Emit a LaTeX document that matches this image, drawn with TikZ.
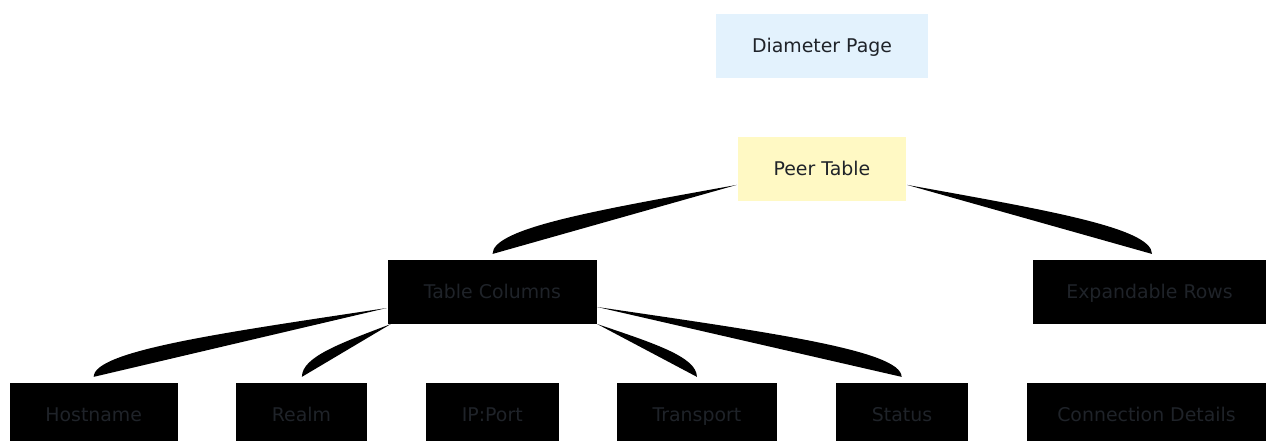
\documentclass[tikz,border=0pt]{standalone}
\usepackage{fontspec}
\setmainfont{DejaVu Sans}
\usetikzlibrary{calc}
\definecolor{txt}{HTML}{1F2329}
\definecolor{bluefill}{HTML}{E3F2FD}
\definecolor{yellowfill}{HTML}{FFF9C4}
\tikzset{
  box/.style={rectangle, inner sep=0pt, minimum height=63.7pt, text=txt,
    text height=13.8pt, text depth=0pt,
    font=\fontsize{18.9}{22}\selectfont},
  bluebox/.style={box, fill=bluefill},
  yellowbox/.style={box, fill=yellowfill},
  darkbox/.style={box, fill=black},
}
\newcommand{\wedgelink}[2]{%
  \fill[black] let \p1=(#1), \p2=(#2) in
    (\p1) .. controls ({\x1+0.56*(\x2-\x1)},{\y1+0.36*(\y2-\y1)})
             and ({\x2},{\y2+0.38*(\y1-\y2)}) .. (\p2) -- cycle;}
\begin{document}
\begin{tikzpicture}[x=1pt,y=-1pt]
\useasboundingbox (0,0) rectangle (1266,441);
\clip (0,0) rectangle (1266,441);
\fill[white] (0,0) rectangle (1266,441);

\node[bluebox, minimum width=212pt] (diam) at (822,45.8) {Diameter Page};
\node[yellowbox, minimum width=168pt] (peer) at (821.9,168.9) {Peer Table};
\node[darkbox, minimum width=209pt] (cols) at (492.5,292) {Table Columns};
\node[darkbox, minimum width=233pt] (rows) at (1149.5,292) {Expandable Rows};
\node[darkbox, minimum width=168.4pt] (host) at (93.7,414.9) {Hostname};
\node[darkbox, minimum width=130.8pt] (realm) at (301.4,414.9) {Realm};
\node[darkbox, minimum width=133.2pt] (ipport) at (492.3,414.9) {IP:Port};
\node[darkbox, minimum width=159.7pt] (trans) at (696.9,414.9) {Transport};
\node[darkbox, minimum width=131.7pt] (status) at (902,414.9) {Status};
\node[darkbox, minimum width=239pt] (conn) at (1146.5,414.9) {Connection Details};

% start points on parent borders
\coordinate (pL) at ($(peer.west)+(-1,16)$);
\coordinate (pR) at ($(peer.east)+(1,16)$);
\coordinate (cHost) at ($(cols.west)+(-1,16)$);
\coordinate (cRealm) at ($(cols.south west)+(3,0)$);
\coordinate (cTrans) at ($(cols.south east)+(0,0)$);
\coordinate (cStat) at ($(cols.east)+(0,15)$);
% end points just above children
\coordinate (eCols) at ($(cols.north)+(0,-6)$);
\coordinate (eRows) at ($(rows.north)+(2.5,-6)$);
\coordinate (eHost) at ($(host.north)+(0,-6)$);
\coordinate (eRealm) at ($(realm.north)+(0.5,-6)$);
\coordinate (eTrans) at ($(trans.north)+(0,-6)$);
\coordinate (eStat) at ($(status.north)+(-0.4,-6)$);

\wedgelink{pL}{eCols}
\wedgelink{pR}{eRows}
\wedgelink{cHost}{eHost}
\wedgelink{cRealm}{eRealm}
\wedgelink{cTrans}{eTrans}
\wedgelink{cStat}{eStat}
\end{tikzpicture}
\end{document}
